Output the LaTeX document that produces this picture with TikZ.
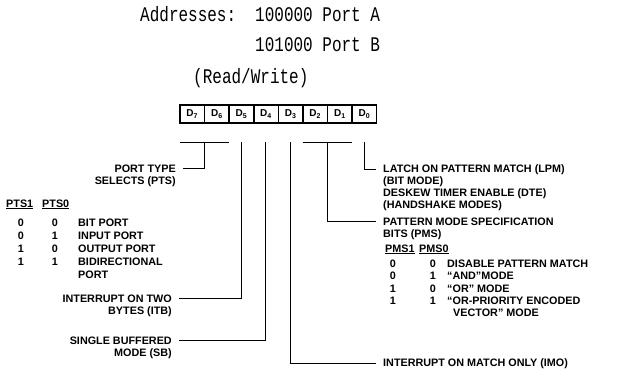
\documentclass[tikz,border=0pt]{standalone}
\usepackage{fontspec}
\usepackage{graphicx}
\setsansfont{Liberation Sans}
\newfontfamily\monofont{Liberation Mono}
\usetikzlibrary{positioning}

\begin{document}
\begin{tikzpicture}[
        x=1pt, y=-1pt,
        % typewriter lines at the top
        hdr/.style={anchor=base west, inner sep=0pt,
            font=\monofont\fontsize{16}{20}\selectfont},
        lbl/.style={inner sep=0pt, font=\sffamily\bfseries\fontsize{10.8}{12}\selectfont},
        lblL/.style={lbl, anchor=base east},
        lblR/.style={lbl, anchor=base west},
        digit/.style={lbl, anchor=base},
        cell/.style={draw, line width=0.6pt, minimum width=24pt, minimum height=17pt,
            inner sep=0pt, font=\sffamily\bfseries\fontsize{10}{10}\selectfont},
        wire/.style={line width=1pt, shorten >=7pt}
    ]
        \useasboundingbox (0,0) rectangle (625,373);

        % Header
        \node[hdr] (addr) at (140,21) {\scalebox{1}[1.3]{Addresses:}};
        \node[hdr] (porta) at (255,21) {\scalebox{1}[1.3]{100000 Port A}};
        \node[hdr] (portb) at (255,51) {\scalebox{1}[1.3]{101000 Port B}};
        \node[hdr] (rw) at (193,83) {\scalebox{1}[1.3]{(Read/Write)}};

        % Register bits
        \node[cell] (c7) at (192,114) {D\raisebox{-2pt}{\scriptsize 7}};
        \node[cell, right=0pt of c7] (c6) {D\raisebox{-2pt}{\scriptsize 6}};
        \node[cell, right=0pt of c6] (c5) {D\raisebox{-2pt}{\scriptsize 5}};
        \node[cell, right=0pt of c5] (c4) {D\raisebox{-2pt}{\scriptsize 4}};
        \node[cell, right=0pt of c4] (c3) {D\raisebox{-2pt}{\scriptsize 3}};
        \node[cell, right=0pt of c3] (c2) {D\raisebox{-2pt}{\scriptsize 2}};
        \node[cell, right=0pt of c2] (c1) {D\raisebox{-2pt}{\scriptsize 1}};
        \node[cell, right=0pt of c1] (c0) {D\raisebox{-2pt}{\scriptsize 0}};
        \draw[line width=1.8pt] (c7.north west) rectangle (c0.south east);
        \coordinate (lvl) at (0,142);

        % Left labels
        \node[lblL] (pts) at (176,172) {PORT TYPE};
        \node[lblL] (pts2) at ([yshift=-12pt]pts.base east) {SELECTS (PTS)};
        \node[lblR] (pts1) at (6,207) {\underline{PTS1}};
        \node[lblR] (pts0) at (42,207) {\underline{PTS0}};
        \node[digit] (p1a) at (21,226) {0};  \node[digit] (p0a) at (55,226) {0};
        \node[lblR] (bitp) at (78,226) {BIT PORT};
        \node[digit] (p1b) at (21,239) {0};  \node[digit] (p0b) at (55,239) {1};
        \node[lblR] (inp) at (78,239) {INPUT PORT};
        \node[digit] (p1c) at (21,252) {1};  \node[digit] (p0c) at (55,252) {0};
        \node[lblR] (outp) at (78,252) {OUTPUT PORT};
        \node[digit] (p1d) at (21,265) {1};  \node[digit] (p0d) at (55,265) {1};
        \node[lblR] (bidi) at (78,265) {BIDIRECTIONAL};
        \node[lblR] (bidi2) at ([yshift=-13pt]bidi.base west) {PORT};
        \node[lblL] (itb) at (172,302) {INTERRUPT ON TWO};
        \node[lblL] (itb2) at ([yshift=-12pt]itb.base east) {BYTES (ITB)};
        \node[lblL] (sb) at (172,344) {SINGLE BUFFERED};
        \node[lblL] (sb2) at ([yshift=-12pt]sb.base east) {MODE (SB)};

        % Right labels
        \node[lblR] (lpm) at (383,172) {LATCH ON PATTERN MATCH (LPM)};
        \node[lblR] (lpm2) at ([yshift=-12pt]lpm.base west) {(BIT MODE)};
        \node[lblR] (dte) at ([yshift=-12pt]lpm2.base west) {DESKEW TIMER ENABLE (DTE)};
        \node[lblR] (dte2) at ([yshift=-12pt]dte.base west) {(HANDSHAKE MODES)};
        \node[lblR] (pms) at (383,225) {PATTERN MODE SPECIFICATION};
        \node[lblR] (pms2) at ([yshift=-12pt]pms.base west) {BITS (PMS)};
        \node[lblR] (pms1) at (385,252) {\underline{PMS1}};
        \node[lblR] (pms0) at (419,252) {\underline{PMS0}};
        \node[digit] (m1a) at (393,267) {0};  \node[digit] (m0a) at (433,267) {0};
        \node[lblR] (dis) at (447,267) {DISABLE PATTERN MATCH};
        \node[digit] (m1b) at (393,279) {0};  \node[digit] (m0b) at (433,279) {1};
        \node[lblR] (andm) at (447,279) {“AND”MODE};
        \node[digit] (m1c) at (393,292) {1};  \node[digit] (m0c) at (433,292) {0};
        \node[lblR] (orm) at (447,292) {“OR” MODE};
        \node[digit] (m1d) at (393,304) {1};  \node[digit] (m0d) at (433,304) {1};
        \node[lblR] (orp) at (447,304) {“OR-PRIORITY ENCODED};
        \node[lblR] (orp2) at (453,316) {VECTOR” MODE};
        \node[lblR] (imo) at (383,366) {INTERRUPT ON MATCH ONLY (IMO)};

        % Connections
        \draw[line width=1pt] (c7.south west |- lvl) -- (c6.south east |- lvl);
        \draw[wire] (c7.south east |- lvl) |- (pts);
        \draw[wire] (c5.south |- lvl) |- (itb);
        \draw[wire] (c4.south |- lvl) |- (sb);
        \draw[wire] (c3.south |- lvl) |- (imo);
        \draw[line width=1pt] (c2.south west |- lvl) -- (c1.south east |- lvl);
        \draw[wire] (c2.south east |- lvl) |- (pms);
        \draw[wire] (c0.south |- lvl) |- (lpm);
    \end{tikzpicture}
\end{document}
